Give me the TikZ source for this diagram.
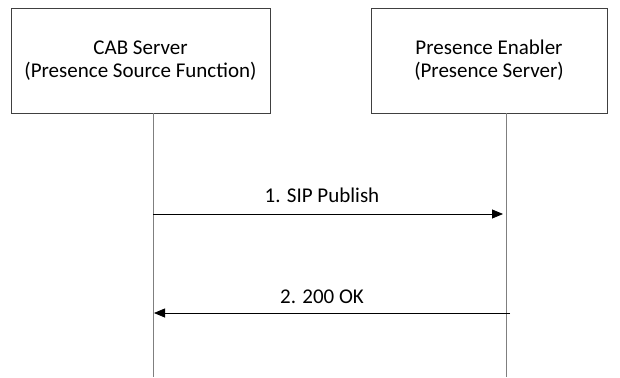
\documentclass[tikz,border=0pt]{standalone}
\usepackage{fontspec}
\setmainfont{Carlito}
\usetikzlibrary{positioning,arrows.meta}
\definecolor{boxgray}{HTML}{404040}
\definecolor{linegray}{HTML}{7F7F7F}

\begin{document}
\begin{tikzpicture}[x=1pt, y=-1pt,
  entity/.style={draw=boxgray, line width=0.9pt, minimum height=105pt, align=center,
    font=\fontsize{21}{23}\selectfont},
  lifeline/.style={draw=linegray, line width=1pt},
  msg/.style={draw=black, line width=0.8pt, -{Triangle[length=11pt, width=9pt]}},
  msglabel/.style={font=\fontsize{21}{23}\selectfont}]
  \useasboundingbox (0,0) rectangle (620,377);

  % entities
  \node[entity, minimum width=259pt] (cab) at (140.5,60.5) {CAB Server\\(Presence Source Function)};
  \node[entity, minimum width=236pt] (pe) at (489,60.5) {Presence Enabler\\(Presence Server)};

  % lifelines
  \coordinate (cabend) at (153,377);
  \coordinate (peend) at (506,377);
  \draw[lifeline] (cabend |- cab.south) -- (cabend);
  \draw[lifeline] (peend |- pe.south) -- (peend);

  % messages
  \coordinate (pubfrom) at (153,214);
  \coordinate (pubto) at (503,214);
  \coordinate (okfrom) at (510,313);
  \coordinate (okto) at (154,313);
  \draw[msg] (pubfrom) -- (pubto);
  \draw[msg] (okfrom) -- (okto);
  \node[msglabel] (publbl) at (322,195) {1. SIP Publish};
  \node[msglabel] (oklbl) at (322,297) {2. 200 OK};
\end{tikzpicture}
\end{document}
